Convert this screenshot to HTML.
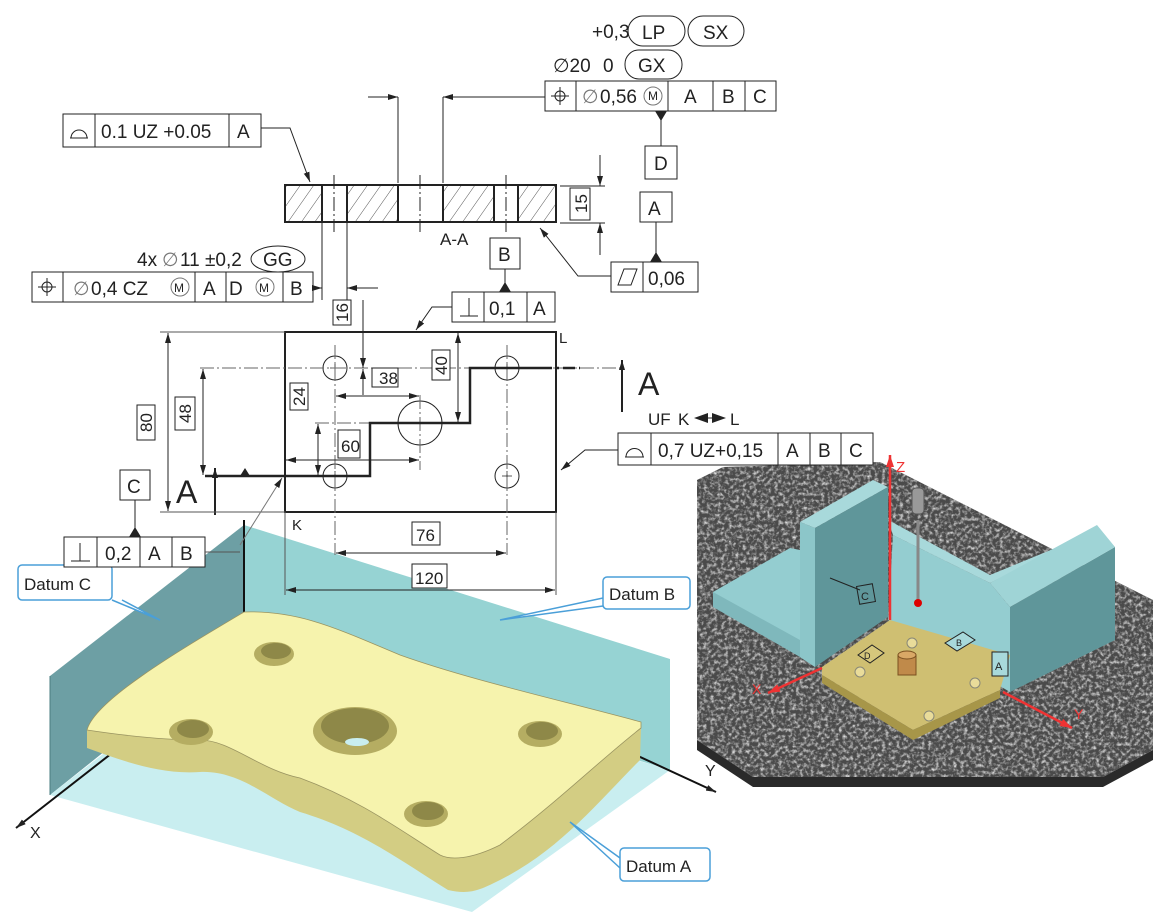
<!DOCTYPE html>
<html><head><meta charset="utf-8"><style>
html,body{margin:0;padding:0;background:#fff}
svg{display:block}
text{font-family:"Liberation Sans",sans-serif;fill:#222}
</style></head><body>
<svg width="1168" height="917" viewBox="0 0 1168 917" xmlns="http://www.w3.org/2000/svg">
<defs>
<pattern id="hat" width="11" height="11" patternUnits="userSpaceOnUse" patternTransform="rotate(35)">
<line x1="0" y1="0" x2="0" y2="11" stroke="#555" stroke-width="1"/></pattern>
<filter id="gran" x="0" y="0" width="100%" height="100%">
<feTurbulence type="fractalNoise" baseFrequency="0.28" numOctaves="3" seed="5"/>
<feColorMatrix type="matrix" values="0 0 0 0 0.75  0 0 0 0 0.75  0 0 0 0 0.75  2.2 0 0 0 -0.95"/>
<feComposite in2="SourceGraphic" operator="in"/>
</filter>
<marker id="ar" markerWidth="10" markerHeight="6" refX="10" refY="3" orient="auto" markerUnits="userSpaceOnUse"><path d="M0,0 L10,3 L0,6z" fill="#222"/></marker>
<marker id="arR" markerWidth="12" markerHeight="8" refX="12" refY="4" orient="auto" markerUnits="userSpaceOnUse"><path d="M0,0 L12,4 L0,8z" fill="#e33"/></marker>
</defs>

<!-- ============ RIGHT 3D SCENE ============ -->
<polygon points="697,480 723,467 880,462 1153,600 1153,750 1103,777 753,777 697,740" fill="#4a4a4a"/>
<polygon points="697,480 723,467 880,462 1153,600 1153,750 1103,777 753,777 697,740" fill="#fff" filter="url(#gran)"/>
<polygon points="697,740 753,777 1103,777 1153,750 1153,760 1103,787 753,787 697,750" fill="#2a2a2a"/>
<polygon points="893,535 990,583 1010,607 1010,692 888,620" fill="#94cdd0"/>
<polygon points="888,520 893,535 990,583 1080,538 990,575" fill="#a8d9db"/>
<polygon points="1010,607 1115,547 1115,640 1010,692" fill="#5f969a"/>
<polygon points="990,583 1097,525 1115,547 1010,607" fill="#9fd4d6"/>
<polygon points="713,592 790,548 800,550 800,650 713,607" fill="#94cdd0"/>
<polygon points="713,592 713,607 800,657 815,667 815,652 800,640" fill="#7fb8bc"/>
<polygon points="800,522 873,480 888,487 815,528" fill="#a8d9db"/>
<polygon points="800,522 815,528 815,667 800,657" fill="#8cc6c9"/>
<polygon points="815,528 888,487 888,617 815,667" fill="#5f969a"/>
<line x1="830" y1="578" x2="860" y2="590" stroke="#222" stroke-width="1"/>
<rect x="858" y="585" width="16" height="18" fill="none" stroke="#222" transform="rotate(-10 866 594)"/>
<text x="861" y="600" font-size="11">C</text>
<polygon points="822,667 890,620 1010,655 1000,690 913,730 822,675" fill="#cfbf72"/>
<polygon points="822,675 913,730 1000,690 1000,698 913,740 822,683" fill="#a79649"/>
<circle cx="912" cy="643" r="5" fill="#e9dc9a" stroke="#887"/>
<circle cx="860" cy="672" r="5" fill="#e9dc9a" stroke="#887"/>
<circle cx="975" cy="683" r="5" fill="#e9dc9a" stroke="#887"/>
<circle cx="929" cy="716" r="5" fill="#e9dc9a" stroke="#887"/>
<rect x="898" y="655" width="18" height="20" fill="#c08a4a" stroke="#7a5020"/>
<ellipse cx="907" cy="655" rx="9" ry="4" fill="#d9a866" stroke="#7a5020"/>
<polygon points="858,655 872,645 884,653 870,663" fill="#d6c77c" stroke="#222"/>
<text x="864" y="659" font-size="9">D</text>
<polygon points="945,643 963,632 975,640 957,651" fill="#a8d9db" stroke="#222"/>
<text x="956" y="646" font-size="9">B</text>
<rect x="992" y="652" width="16" height="24" fill="#a8d9db" stroke="#222"/>
<text x="995" y="670" font-size="11">A</text>
<line x1="890" y1="620" x2="890" y2="455" stroke="#e33" stroke-width="2.5" marker-end="url(#arR)"/>
<text x="896" y="472" font-size="15" style="fill:#e33">Z</text>
<line x1="822" y1="668" x2="768" y2="693" stroke="#e33" stroke-width="2.5" marker-end="url(#arR)"/>
<text x="752" y="694" font-size="14" style="fill:#e33">X</text>
<line x1="1003" y1="692" x2="1072" y2="728" stroke="#e33" stroke-width="2.5" marker-end="url(#arR)"/>
<text x="1074" y="719" font-size="14" style="fill:#e33">Y</text>
<line x1="918" y1="520" x2="918" y2="603" stroke="#888" stroke-width="3"/>
<rect x="912" y="488" width="12" height="26" rx="4" fill="#999" stroke="#555"/>
<circle cx="918" cy="603" r="4" fill="#d00"/>

<!-- ============ LEFT 3D ============ -->
<polygon points="244,525 50,676 50,795 244,640" fill="#6d9fa4"/>
<polygon points="244,525 670,659 670,770 244,640" fill="#96d3d3"/>
<polygon points="50,795 472,912 670,770 244,645" fill="#c9eef0"/>
<line x1="50" y1="676" x2="50" y2="795" stroke="#4a7c80"/>
<line x1="244" y1="520" x2="244" y2="655" stroke="#111" stroke-width="2"/>
<line x1="244" y1="650" x2="16" y2="828" stroke="#111" stroke-width="2" marker-end="url(#ar)"/>
<line x1="560" y1="720" x2="716" y2="792" stroke="#111" stroke-width="2" marker-end="url(#ar)"/>
<text x="30" y="838" font-size="16">X</text>
<text x="705" y="776" font-size="16">Y</text>
<path d="M87,748 C120,760 160,775 200,772 C240,770 270,800 300,812 C360,830 400,860 448,890 C470,895 480,890 500,880 C560,850 600,800 640,760 L641,728 C600,760 560,800 500,845 C470,860 450,860 440,855 C400,830 360,800 300,778 C260,770 230,740 200,740 C160,740 120,735 87,730 Z" fill="#d3cd83"/>
<path d="M87,730 C95,700 180,650 244,612 C300,610 340,630 400,655 C470,680 560,700 641,722 L641,728 C600,760 560,800 500,845 C470,860 450,860 440,855 C400,830 360,800 300,778 C260,770 230,740 200,740 C160,740 120,735 87,730 Z" fill="#f6f3ad" stroke="#9a9460" stroke-width="0.8"/>
<ellipse cx="274" cy="654" rx="20" ry="12" fill="#b5ad62"/><ellipse cx="276" cy="651" rx="15" ry="8" fill="#8e8848"/>
<ellipse cx="191" cy="732" rx="22" ry="13" fill="#b5ad62"/><ellipse cx="193" cy="729" rx="16" ry="9" fill="#8e8848"/>
<ellipse cx="355" cy="731" rx="42" ry="24" fill="#b5ad62"/><ellipse cx="355" cy="726" rx="34" ry="18" fill="#8e8848"/><ellipse cx="357" cy="742" rx="12" ry="4" fill="#c9eef0"/>
<ellipse cx="540" cy="734" rx="22" ry="13" fill="#b5ad62"/><ellipse cx="542" cy="731" rx="16" ry="9" fill="#8e8848"/>
<ellipse cx="426" cy="814" rx="22" ry="13" fill="#b5ad62"/><ellipse cx="428" cy="811" rx="16" ry="9" fill="#8e8848"/>
<g stroke="#4a9fd8" stroke-width="1.5" fill="#fff">
<path d="M112,600 L160,620 L122,600"/>
<rect x="18" y="565" width="94" height="35" rx="4"/>
<path d="M603,598 L500,620 L603,606"/>
<rect x="603" y="577" width="87" height="32" rx="4"/>
<path d="M620,868 L570,822 L620,858"/>
<rect x="620" y="848" width="90" height="33" rx="4"/>
</g>
<text x="24" y="590" font-size="17">Datum C</text>
<text x="609" y="600" font-size="17">Datum B</text>
<text x="626" y="872" font-size="17">Datum A</text>

<!-- ============ 2D DRAWING ============ -->
<g stroke="#222" stroke-width="1" fill="none">
<line x1="368" y1="97" x2="398" y2="97" marker-end="url(#ar)"/>
<line x1="545" y1="97" x2="443" y2="97" marker-end="url(#ar)"/>
<line x1="398" y1="97" x2="398" y2="183"/>
<line x1="443" y1="97" x2="443" y2="183"/>
<rect x="285" y="185" width="37" height="37" fill="url(#hat)"/>
<rect x="347" y="185" width="51" height="37" fill="url(#hat)"/>
<rect x="443" y="185" width="51" height="37" fill="url(#hat)"/>
<rect x="518" y="185" width="38" height="37" fill="url(#hat)"/>
<rect x="285" y="185" width="271" height="37" stroke-width="2"/>
<line x1="322" y1="185" x2="322" y2="222" stroke-width="2"/><line x1="347" y1="185" x2="347" y2="222" stroke-width="2"/>
<line x1="398" y1="185" x2="398" y2="222" stroke-width="2"/><line x1="443" y1="185" x2="443" y2="222" stroke-width="2"/>
<line x1="494" y1="185" x2="494" y2="222" stroke-width="2"/><line x1="518" y1="185" x2="518" y2="222" stroke-width="2"/>
<line x1="334" y1="175" x2="334" y2="232" stroke-dasharray="14,3,2,3"/>
<line x1="420" y1="175" x2="420" y2="232" stroke-dasharray="14,3,2,3"/>
<line x1="506" y1="175" x2="506" y2="232" stroke-dasharray="14,3,2,3"/>
<line x1="560" y1="186" x2="605" y2="186"/><line x1="560" y1="223" x2="605" y2="223"/>
<line x1="600" y1="155" x2="600" y2="186" marker-end="url(#ar)"/>
<line x1="600" y1="255" x2="600" y2="223" marker-end="url(#ar)"/>
<rect x="570" y="188" width="20" height="32"/>
<line x1="322" y1="222" x2="322" y2="300"/><line x1="347" y1="222" x2="347" y2="300"/>
<rect x="545" y="81" width="231" height="30" fill="#fff"/>
<path d="M576,81V111M668,81V111M713,81V111M745,81V111"/>
<path d="M560,87V105M551,96H569"/><circle cx="560" cy="96" r="5"/>
<rect x="645" y="146" width="32" height="33" fill="#fff"/>
<line x1="661" y1="111" x2="661" y2="146"/>
<rect x="63" y="114" width="198" height="33" fill="#fff"/>
<path d="M95,114V147M229,114V147"/>
<path d="M70,138 H88 M71,138 A8,8 0 0 1 87,138"/>
<path d="M261,128 H290 L310,182" marker-end="url(#ar)"/>
<rect x="640" y="192" width="32" height="30" fill="#fff"/>
<line x1="656" y1="222" x2="656" y2="262"/>
<rect x="611" y="262" width="87" height="30" fill="#fff"/>
<line x1="643" y1="262" x2="643" y2="292"/>
<path d="M618,285 L624,269 L637,269 L631,285Z"/>
<path d="M611,276 H578 L540,228" marker-end="url(#ar)"/>
<rect x="490" y="238" width="30" height="31" fill="#fff"/>
<line x1="505" y1="269" x2="505" y2="292"/>
<rect x="452" y="292" width="103" height="30" fill="#fff"/>
<path d="M484,292V322M527,292V322"/>
<path d="M460,316H478M469,298V316"/>
<path d="M452,307 H432 L416,330" marker-end="url(#ar)"/>
<ellipse cx="278" cy="259" rx="27" ry="13" fill="#fff"/>
<rect x="32" y="272" width="281" height="30" fill="#fff"/>
<path d="M63,272V302M195,272V302M226,272V302M283,272V302"/>
<path d="M47,278V296M38,287H56"/><circle cx="47" cy="287" r="5"/>
<circle cx="180" cy="287" r="9" stroke="#777"/>
<circle cx="265" cy="287" r="9" stroke="#777"/>
<line x1="313" y1="288" x2="322" y2="288" marker-end="url(#ar)"/>
<line x1="378" y1="288" x2="347" y2="288" marker-end="url(#ar)"/>
<rect x="628" y="16" width="57" height="30" rx="15" fill="#fff"/>
<rect x="688" y="16" width="56" height="30" rx="15" fill="#fff"/>
<rect x="625" y="50" width="57" height="29" rx="14" fill="#fff"/>
<circle cx="653" cy="96" r="9" stroke="#777"/>
<rect x="285" y="332" width="271" height="180" stroke-width="2"/>
<circle cx="335" cy="368" r="12"/><circle cx="507" cy="368" r="12"/>
<circle cx="335" cy="476" r="12"/><circle cx="507" cy="476" r="12"/>
<circle cx="420" cy="423" r="22"/>
<g stroke-width="0.8"><path d="M330,368H340M335,363V373M502,368H512M507,363V373M330,476H340M335,471V481M502,476H512M507,471V481"/></g>
<g stroke-dasharray="14,3,2,3" stroke="#666">
<line x1="335" y1="345" x2="335" y2="555"/><line x1="507" y1="345" x2="507" y2="555"/>
<line x1="420" y1="395" x2="420" y2="470"/>
<line x1="200" y1="368" x2="470" y2="368"/><line x1="470" y1="368" x2="622" y2="368"/>
<line x1="315" y1="423" x2="450" y2="423"/>
</g>
<path d="M205,476 H370 V423 H470 V368 H540" stroke-width="2.5"/>
<path d="M540,368 H580" stroke-width="2.5" stroke-dasharray="12,4,3,4"/>
<line x1="215" y1="515" x2="215" y2="468" stroke-width="2" marker-end="url(#ar)"/>
<line x1="622" y1="412" x2="622" y2="360" stroke-width="2" marker-end="url(#ar)"/>
<g stroke="#555"><line x1="160" y1="332" x2="285" y2="332"/><line x1="160" y1="512" x2="285" y2="512"/>
<line x1="285" y1="512" x2="285" y2="595"/><line x1="556" y1="512" x2="556" y2="595"/></g>
<line x1="168" y1="420" x2="168" y2="333" marker-end="url(#ar)"/><line x1="168" y1="420" x2="168" y2="511" marker-end="url(#ar)"/>
<rect x="137" y="405" width="18" height="35" fill="#fff"/>
<line x1="203" y1="420" x2="203" y2="369" marker-end="url(#ar)"/><line x1="203" y1="420" x2="203" y2="475" marker-end="url(#ar)"/>
<rect x="175" y="397" width="20" height="33" fill="#fff"/>
<line x1="318" y1="450" x2="318" y2="424" marker-end="url(#ar)"/><line x1="318" y1="450" x2="318" y2="475" marker-end="url(#ar)"/>
<rect x="290" y="383" width="18" height="27" fill="#fff"/>
<line x1="363" y1="300" x2="363" y2="368" marker-end="url(#ar)"/>
<line x1="363" y1="395" x2="363" y2="369" marker-end="url(#ar)"/>
<rect x="333" y="300" width="18" height="25" fill="#fff"/>
<line x1="378" y1="396" x2="336" y2="396" marker-end="url(#ar)"/><line x1="378" y1="396" x2="419" y2="396" marker-end="url(#ar)"/>
<rect x="372" y="368" width="26" height="19" fill="#fff"/>
<line x1="458" y1="380" x2="458" y2="333" marker-end="url(#ar)"/><line x1="458" y1="380" x2="458" y2="422" marker-end="url(#ar)"/>
<rect x="432" y="350" width="18" height="30" fill="#fff"/>
<line x1="350" y1="460" x2="286" y2="460" marker-end="url(#ar)"/><line x1="350" y1="460" x2="419" y2="460" marker-end="url(#ar)"/>
<rect x="338" y="430" width="22" height="28" fill="#fff"/>
<line x1="420" y1="553" x2="336" y2="553" marker-end="url(#ar)"/><line x1="420" y1="553" x2="506" y2="553" marker-end="url(#ar)"/>
<rect x="412" y="522" width="28" height="23" fill="#fff"/>
<line x1="420" y1="590" x2="286" y2="590" marker-end="url(#ar)"/><line x1="420" y1="590" x2="555" y2="590" marker-end="url(#ar)"/>
<rect x="412" y="564" width="35" height="24" fill="#fff"/>
<rect x="618" y="433" width="255" height="32" fill="#fff"/>
<path d="M651,433V465M778,433V465M810,433V465M841,433V465"/>
<path d="M625,457 H644 M626,457 A8.5,8.5 0 0 1 643,457"/>
<path d="M618,450 H585 L561,470" marker-end="url(#ar)"/>
<rect x="120" y="470" width="30" height="30" fill="#fff"/>
<line x1="135" y1="500" x2="135" y2="537"/>
<rect x="64" y="537" width="141" height="30" fill="#fff"/>
<path d="M97,537V567M140,537V567M172,537V567"/>
<path d="M71,561H90M80,543V561"/>
<line x1="205" y1="552" x2="240" y2="552" stroke="#555"/>
<line x1="240" y1="545" x2="282" y2="478" stroke="#777" marker-end="url(#ar)"/>
</g>
<g fill="#222">
<path d="M655,111 L667,111 L661,121Z"/>
<path d="M650,262 L662,262 L656,252Z"/>
<path d="M499,292 L511,292 L505,282Z"/>
<path d="M129,537 L141,537 L135,527Z"/>
<path d="M240,476 L250,476 L245,468Z"/>
<path d="M694,418 L708,413 L708,423Z M726,418 L712,413 L712,423Z"/>
<line x1="708" y1="418" x2="712" y2="418" stroke="#222"/>
</g>
<g font-size="19">
<text x="592" y="38">+0,3</text>
<text x="642" y="39">LP</text><text x="703" y="39">SX</text>
<text x="553" y="72">∅20</text><text x="603" y="72">0</text><text x="638" y="72">GX</text>
<text x="582" y="103" style="fill:#777">∅</text><text x="600" y="103">0,56</text>
<text x="648" y="100" font-size="12">M</text>
<text x="684" y="103">A</text><text x="722" y="103">B</text><text x="753" y="103">C</text>
<text x="654" y="170">D</text>
<text x="101" y="138">0.1 UZ +0.05</text><text x="237" y="138">A</text>
<text x="648" y="215">A</text>
<text x="648" y="285">0,06</text>
<text x="440" y="245" font-size="17">A-A</text>
<text x="498" y="261">B</text>
<text x="489" y="315">0,1</text><text x="533" y="315">A</text>
<text x="137" y="266">4x</text><text x="162" y="266" style="fill:#777">∅</text><text x="180" y="266">11 ±0,2</text>
<text x="263" y="266">GG</text>
<text x="73" y="295" style="fill:#777">∅</text><text x="91" y="295">0,4 CZ</text>
<text x="174" y="292" font-size="12">M</text>
<text x="203" y="295">A</text><text x="229" y="295">D</text><text x="259" y="292" font-size="12">M</text>
<text x="290" y="295">B</text>
<text x="559" y="343" font-size="15">L</text>
<text x="292" y="530" font-size="15">K</text>
<text x="176" y="503" font-size="32">A</text>
<text x="638" y="395" font-size="32">A</text>
<text x="648" y="425" font-size="17">UF</text><text x="678" y="425" font-size="17">K</text><text x="730" y="425" font-size="17">L</text>
<text x="658" y="457">0,7 UZ+0,15</text><text x="786" y="457">A</text><text x="818" y="457">B</text><text x="849" y="457">C</text>
<text x="127" y="493">C</text>
<text x="105" y="560">0,2</text><text x="148" y="560">A</text><text x="180" y="560">B</text>
<text x="379" y="384" font-size="17">38</text>
<text x="341" y="452" font-size="17">60</text>
<text x="416" y="541" font-size="17">76</text>
<text x="415" y="584" font-size="17">120</text>
<g font-size="17">
<text transform="translate(152,432) rotate(-90)">80</text>
<text transform="translate(191,423) rotate(-90)">48</text>
<text transform="translate(305,406) rotate(-90)">24</text>
<text transform="translate(348,322) rotate(-90)">16</text>
<text transform="translate(447,375) rotate(-90)">40</text>
<text transform="translate(587,213) rotate(-90)">15</text>
</g>
</g>
</svg>
</body></html>
